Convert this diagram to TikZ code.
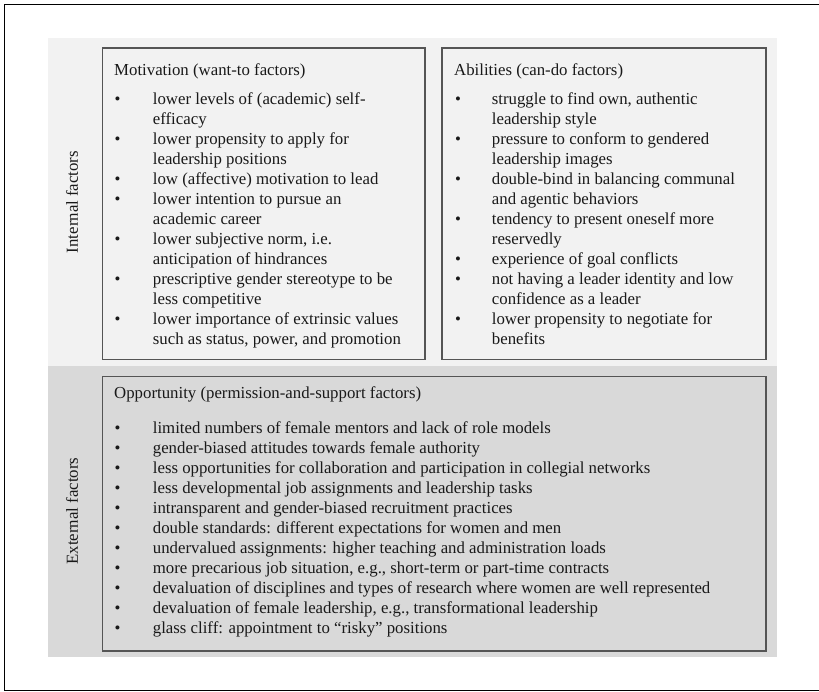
\documentclass[tikz,border=0pt]{standalone}
\usepackage{fontspec}
\setmainfont{Liberation Serif}
\usepackage{array}
\definecolor{bgin}{HTML}{F2F2F2}
\definecolor{bgex}{HTML}{D9D9D9}
\definecolor{boxline}{HTML}{555555}
\begin{document}
\begin{tikzpicture}[x=1pt,y=-1pt,
  txt/.style={inner sep=0pt, font=\fontsize{16.8}{20}\selectfont, align=left, text=black!90},
  panel/.style={draw=boxline, line width=1.5pt, anchor=north west, inner sep=0pt},
  side/.style={inner sep=0pt, font=\fontsize{16.8}{20}\selectfont, rotate=90, text=black!90}]
\useasboundingbox (0,0) rectangle (819,692);
% outer frame
\draw[line width=1.2pt] (819,4.5) -- (4.5,4.5) -- (4.5,690.5) -- (819,690.5);
% background bands
\fill[bgin] (47.7,38) rectangle (777,366);
\fill[bgex] (47.7,366) rectangle (777,657);
% side labels
\node[side] (intl) at (72,202) {Internal factors};
\node[side] (extl) at (72,511) {External factors};
% boxes
\node[panel, fill=bgin, minimum width=322.3pt, minimum height=311.5pt] (mot) at (101.7,47.5) {};
\node[panel, fill=bgin, minimum width=323.7pt, minimum height=311.5pt] (abi) at (441.3,47.5) {};
\node[panel, fill=bgex, minimum width=663.3pt, minimum height=274.3pt] (opp) at (101.7,375.7) {};
% headings
\node[txt, anchor=base west] (moth) at (114,76) {Motivation (want-to factors)};
\node[txt, anchor=base west] (abih) at (454,76) {Abilities (can-do factors)};
\node[txt, anchor=base west] (opph) at (114,399) {Opportunity (permission-and-support factors)};
% lists
\node[txt, anchor=base west] (motl) at (114.5,105) {%
\begin{tabular}[t]{@{}p{38.2pt}@{}l@{}}
\textbullet & lower levels of (academic) self-\\
 & efficacy\\
\textbullet & lower propensity to apply for\\
 & leadership positions\\
\textbullet & low (affective) motivation to lead\\
\textbullet & lower intention to pursue an\\
 & academic career\\
\textbullet & lower subjective norm, i.e.\\
 & anticipation of hindrances\\
\textbullet & prescriptive gender stereotype to be\\
 & less competitive\\
\textbullet & lower importance of extrinsic values\\
 & such as status, power, and promotion
\end{tabular}};
\node[txt, anchor=base west] (abil) at (454.9,105) {%
\begin{tabular}[t]{@{}p{36.8pt}@{}l@{}}
\textbullet & struggle to find own, authentic\\
 & leadership style\\
\textbullet & pressure to conform to gendered\\
 & leadership images\\
\textbullet & double-bind in balancing communal\\
 & and agentic behaviors\\
\textbullet & tendency to present oneself more\\
 & reservedly\\
\textbullet & experience of goal conflicts\\
\textbullet & not having a leader identity and low\\
 & confidence as a leader\\
\textbullet & lower propensity to negotiate for\\
 & benefits
\end{tabular}};
\node[txt, anchor=base west] (oppl) at (114.5,433) {%
\begin{tabular}[t]{@{}p{38.2pt}@{}l@{}}
\textbullet & limited numbers of female mentors and lack of role models\\
\textbullet & gender-biased attitudes towards female authority\\
\textbullet & less opportunities for collaboration and participation in collegial networks\\
\textbullet & less developmental job assignments and leadership tasks\\
\textbullet & intransparent and gender-biased recruitment practices\\
\textbullet & double standards: different expectations for women and men\\
\textbullet & undervalued assignments: higher teaching and administration loads\\
\textbullet & more precarious job situation, e.g., short-term or part-time contracts\\
\textbullet & devaluation of disciplines and types of research where women are well represented\\
\textbullet & devaluation of female leadership, e.g., transformational leadership\\
\textbullet & glass cliff: appointment to “risky” positions
\end{tabular}};
\end{tikzpicture}
\end{document}
